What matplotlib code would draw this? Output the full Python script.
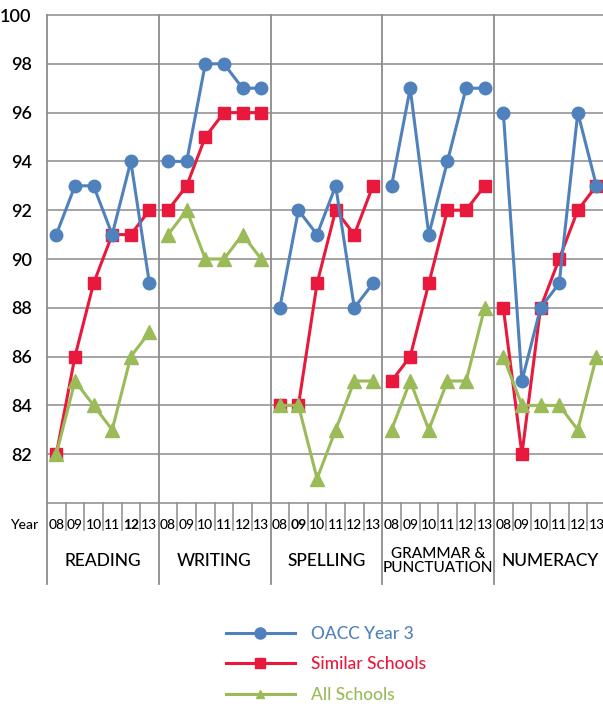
import matplotlib.pyplot as plt
from matplotlib.lines import Line2D

# données
subjects = ['READING', 'WRITING', 'SPELLING', 'GRAMMAR &\nPUNCTUATION', 'NUMERACY']
years = ['08', '09', '10', '11', '12', '13']

oacc = [
    [91, 93, 93, 91, 94, 89],
    [94, 94, 98, 98, 97, 97],
    [88, 92, 91, 93, 88, 89],
    [93, 97, 91, 94, 97, 97],
    [96, 85, 88, 89, 96, 93],
]
similar = [
    [82, 86, 89, 91, 91, 92],
    [92, 93, 95, 96, 96, 96],
    [84, 84, 89, 92, 91, 93],
    [85, 86, 89, 92, 92, 93],
    [88, 82, 88, 90, 92, 93],
]
all_schools = [
    [82, 85, 84, 83, 86, 87],
    [91, 92, 90, 90, 91, 90],
    [84, 84, 81, 83, 85, 85],
    [83, 85, 83, 85, 85, 88],
    [86, 84, 84, 84, 83, 86],
]
y_ticks = [82, 84, 86, 88, 90, 92, 94, 96, 98, 100]

BLUE = '#4f81bd'
RED = '#e8193c'
GREEN = '#9bbb59'
GRID = '#8c8c8c'

plt.rcParams['font.family'] = ['Lato', 'DejaVu Sans']
plt.rcParams['font.weight'] = 'medium'

fig = plt.figure(figsize=(6.03, 7.07), dpi=100)
ax = fig.add_axes([47 / 603, 1 - 503 / 707, 558.75 / 603, 488 / 707])
ax.set_xlim(0, 30)
ax.set_ylim(80, 100)

for s in ax.spines.values():
    s.set_visible(False)

# grille horizontale
for v in y_ticks:
    ax.axhline(v, color=GRID, lw=1.1, zorder=1, clip_on=False)
ax.axhline(80, color=GRID, lw=1.1, zorder=1, clip_on=False)

xt = ax.get_xaxis_transform()
n = len(years)

# séparateurs de panneaux et ticks des années
for p in range(len(subjects) + 1):
    ax.plot([p * n, p * n], [1, -0.165], color=GRID, lw=1.3,
            transform=xt, clip_on=False, zorder=1)
for k in range(len(subjects) * n):
    if k % n != 0:
        ax.plot([k, k], [0, -0.055], color=GRID, lw=1.1,
                transform=xt, clip_on=False, zorder=1)

for p in range(len(subjects)):
    xs = [p * n + i + 0.5 for i in range(n)]
    ax.plot(xs, similar[p], color=RED, lw=2.2, marker='s', ms=8.5,
            mec=RED, zorder=3)
    ax.plot(xs, all_schools[p], color=GREEN, lw=2.2, marker='^', ms=9.5,
            mec=GREEN, zorder=4)
    ax.plot(xs, oacc[p], color=BLUE, lw=2.2, marker='o', ms=9,
            mec=BLUE, zorder=5)
    for i, yr in enumerate(years):
        bold = (p == 2 and yr == '09') or (p == 0 and yr == '12')
        ax.text(xs[i], -0.046, yr, transform=xt, ha='center', va='center',
                fontsize=10, fontweight='bold' if bold else 'medium')
    fs = 11 if '\n' in subjects[p] else 12.5
    ax.text(p * n + n / 2, -0.118, subjects[p], transform=xt, ha='center',
            va='center', fontsize=fs, linespacing=1.0)

ax.text(-0.5, -0.046, 'Year', transform=xt, ha='right', va='center',
        fontsize=10)

ax.set_xticks([])
ax.set_yticks(y_ticks)
ax.set_yticklabels([str(v) for v in y_ticks], fontsize=13, fontweight='semibold')
ax.tick_params(axis='y', length=0, pad=11)

handles = [
    Line2D([], [], color=BLUE, lw=2.2, marker='o', ms=8),
    Line2D([], [], color=RED, lw=2.2, marker='s', ms=7),
    Line2D([], [], color=GREEN, lw=2.2, marker='^', ms=6),
]
labels = ['OACC Year 3', 'Similar Schools', 'All Schools']
fig.legend(handles, labels, loc='upper left', bbox_to_anchor=(210 / 603, 1 - 610 / 707),
           frameon=False, fontsize=12.5, handlelength=4, handletextpad=0.9,
           labelspacing=0.85, labelcolor=[BLUE, RED, GREEN])

fig.savefig('out.png', dpi=100)
